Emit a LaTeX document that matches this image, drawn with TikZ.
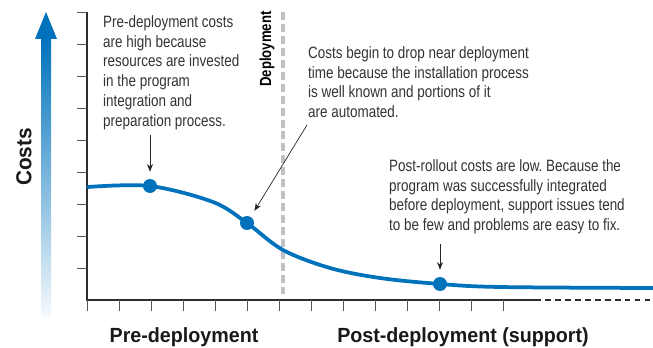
\documentclass[tikz,border=0pt]{standalone}
\usepackage{fontspec}
\setmainfont[FakeStretch=0.82]{Liberation Sans}
\newfontfamily\headfont[FakeStretch=0.96]{Liberation Sans}
\usepackage{tikz}
\usetikzlibrary{positioning,arrows.meta}
\frenchspacing
\definecolor{costblue}{RGB}{0,114,188}
\definecolor{deploygray}{RGB}{192,193,196}
\definecolor{axisgray}{RGB}{45,45,45}
\tikzstyle{note}=[text=black!80, align=left, anchor=north west, inner sep=0pt,
        font=\fontsize{14}{17}\selectfont]
\tikzstyle{phase}=[text=black!90, inner sep=0pt, font=\headfont\bfseries\fontsize{17.5}{20}\selectfont]
\tikzstyle{dot}=[circle, fill=costblue, minimum size=0.42cm, inner sep=0pt]
\tikzstyle{pointer}=[draw=black!85, line width=0.6pt, -{Stealth[length=6.5pt,width=5pt]}, shorten >=6pt]
\tikzstyle{axisline}=[draw=axisgray, line width=1.4pt]
\tikzstyle{tickmark}=[draw=axisgray!80, line width=0.8pt]

\begin{document}
\begin{tikzpicture}[x=0.03cm, y=-0.03cm]
        \useasboundingbox (0,0) rectangle (653,348);
        % rising cost arrow
        \shade[top color=costblue, bottom color=costblue!4] (41,38) rectangle (51,316);
        \fill[costblue] (46,12) -- (57,39) -- (35,39) -- cycle;
        \node (costs) [phase, rotate=90, font=\headfont\bfseries\fontsize{18.5}{20}\selectfont] at (24,157) {Costs};

        % axes
        \draw[axisline] (87,12) -- (87,300) -- (535,300);
        \draw[axisline, line width=1.2pt, dash pattern=on 5pt off 3.5pt] (535,300) -- (653,300);
        \foreach \y in {12,44,...,268}
          \draw[tickmark] (77,\y) -- (87,\y);
        \foreach \x in {87,119,...,503}
          \draw[tickmark] (\x,300) -- (\x,311);

        % deployment marker
        \draw[draw=deploygray, line width=4.2pt, dash pattern=on 6.8pt off 3.4pt] (283,12) -- (283,294);
        \node (deploy) [rotate=90, text=black, inner sep=0pt, font=\bfseries\fontsize{13.7}{15}\selectfont]
          at (267,49) {Deployment};

        % cost curve
        \coordinate (high) at (150,186);
        \coordinate (drop) at (247,223);
        \coordinate (low) at (440,284);
        \draw[costblue, line width=3.2pt, line cap=round] plot[smooth, tension=0.55] coordinates
          {(88,187) (high) (213,202) (drop) (283,250) (330,268) (380,278) (low) (500,287) (653,288)};
        \node (highdot) [dot] at (high) {};
        \node (dropdot) [dot] at (drop) {};
        \node (lowdot) [dot] at (low) {};

        % notes
        \node (prenote) [note] at (103,15)
        {Pre-deployment costs\\are high because\\resources are invested\\in the program\\integration and\\preparation process.};
        \node (dropnote) [note] at (308,46)
        {Costs begin to drop near deployment\\time because the installation process\\is well known and portions of it\\are automated.};
        \node (postnote) [note] at (389,159)
        {Post-rollout costs are low. Because the\\program was successfully integrated\\before deployment, support issues tend\\to be few and problems are easy to fix.};
        \coordinate (prefoot) at (150,135);
        \coordinate (dropfoot) at (307,125);
        \coordinate (postfoot) at (440,244);
        \draw[pointer] (prefoot) -- (highdot);
        \draw[pointer] (dropfoot) -- (dropdot);
        \draw[pointer] (postfoot) -- (lowdot);

        % phases
        \node (pre) [phase] at (184,337) {Pre-deployment};
        \node (post) [phase] at (463,337) {Post-deployment (support)};
\end{tikzpicture}
\end{document}
